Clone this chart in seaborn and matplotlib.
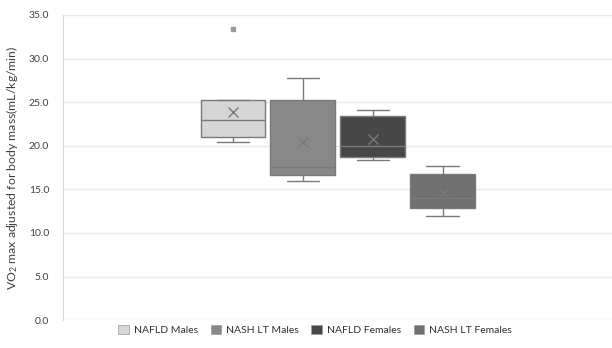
import numpy as np
import pandas as pd
import matplotlib.pyplot as plt
import seaborn as sns
from matplotlib.patches import Patch

# Valores individuales (estimados a partir de las cajas del gráfico)
grupos = ['NAFLD Males', 'NASH LT Males', 'NAFLD Females', 'NASH LT Females']
nafld_males = [20.4, 20.8, 21.0, 22.0, 23.0, 24.0, 25.2, 25.2, 33.4]
nash_lt_males = [16.0, 16.3, 16.6, 17.0, 17.6, 21.0, 25.2, 26.5, 27.8]
nafld_females = [18.4, 18.5, 18.7, 19.4, 20.0, 20.6, 23.4, 23.8, 24.1]
nash_lt_females = [12.0, 12.5, 12.9, 13.4, 14.0, 15.0, 16.8, 17.2, 17.7]
colores = ['#d6d6d6', '#888888', '#474747', '#707070']
yticks = np.arange(0, 35.1, 5)

valores = [nafld_males, nash_lt_males, nafld_females, nash_lt_females]
df = pd.DataFrame({
    'grupo': np.repeat(grupos, [len(v) for v in valores]),
    'vo2': np.concatenate(valores),
})
df['cat'] = ''

sns.set_style('white')
plt.rcParams['font.family'] = ['Lato', 'DejaVu Sans']
plt.rcParams['mathtext.default'] = 'regular'

fig = plt.figure(figsize=(6.12, 3.48), dpi=100)
ax = fig.add_axes([0.103, 0.08, 0.897, 0.877])

sns.boxplot(data=df, x='cat', y='vo2', hue='grupo', hue_order=grupos,
            palette=dict(zip(grupos, colores)), width=0.51, gap=0.085,
            linecolor='#7a7a7a', linewidth=1.0, saturation=1,
            showmeans=True, legend=False,
            meanprops=dict(marker='x', markeredgecolor='#7a7a7a', markersize=7, markeredgewidth=1),
            flierprops=dict(marker='s', markersize=2.5, markerfacecolor='#9a9a9a', markeredgecolor='#9a9a9a'),
            ax=ax)

ax.set_xlim(-0.5, 0.5)
ax.set_ylim(0, 35)
ax.set_yticks(yticks)
ax.set_yticklabels([f'{t:.1f}' for t in yticks], color='#404040', fontsize=7.5)
ax.set_xticks([])
ax.set_xlabel('')
ax.set_ylabel('VO$_2$ max adjusted for body mass(mL/kg/min)', fontsize=8.8, color='#404040', labelpad=6)
ax.yaxis.grid(True, color='#e8e8e8', linewidth=1)
ax.set_axisbelow(True)
ax.tick_params(axis='y', length=0, pad=10)
for s in ['top', 'right', 'bottom']:
    ax.spines[s].set_visible(False)
ax.spines['left'].set_color('#d9d9d9')

handles = [Patch(facecolor=c, edgecolor='#9a9a9a', linewidth=0.5) for c in colores]
fig.legend(handles, grupos, loc='lower center', bbox_to_anchor=(0.515, 0.01), ncol=4,
           frameon=False, fontsize=7.5, handlelength=1.0, handleheight=1.0,
           handletextpad=0.5, columnspacing=1.2, labelcolor='#303030')

fig.savefig('out.png', dpi=100)
